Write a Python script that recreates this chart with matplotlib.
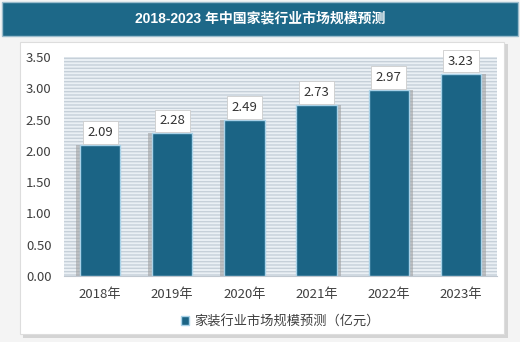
import matplotlib

matplotlib.use('Agg')

import matplotlib.pyplot as plt
from matplotlib.patches import Rectangle

plt.rcParams['font.family'] = ['Noto Sans CJK SC', 'DejaVu Sans']

TITLE = '2018-2023 年中国家装行业市场规模预测'
SERIES_NAME = '家装行业市场规模预测（亿元）'
YEARS = ['2018年', '2019年', '2020年', '2021年', '2022年', '2023年']
VALUES = [2.09, 2.28, 2.49, 2.73, 2.97, 3.23]
Y_TICKS = [0.0, 0.5, 1.0, 1.5, 2.0, 2.5, 3.0, 3.5]

BAR = '#1b6485'
HEADER = '#1d6888'

fig = plt.figure(figsize=(5.2, 3.42), dpi=100)
fig.patch.set_facecolor('#f4f4f4')

# header strip
fig.add_artist(Rectangle((0.004, 0.895), 0.992, 0.099, transform=fig.transFigure,
                         facecolor=HEADER, edgecolor='#9bbccc', linewidth=1, zorder=-3))
fig.text(0.5, 0.945, TITLE, ha='center', va='center', color='white', fontsize=10,
         fontweight='bold', family=['Liberation Sans', 'Noto Sans CJK SC'])

# white card with soft shadow
fig.add_artist(Rectangle((0.044, 0.013), 0.932, 0.858, transform=fig.transFigure,
                         facecolor='#d4d4d4', edgecolor='none', zorder=-3))
fig.add_artist(Rectangle((0.038, 0.022), 0.932, 0.856, transform=fig.transFigure,
                         facecolor='white', edgecolor='#dddddd', linewidth=0.8, zorder=-2))

ax = fig.add_axes([0.123, 0.193, 0.833, 0.640])
ax.set_facecolor('#eaf0f5')
ax.add_patch(Rectangle((0, 0), 1, 1, transform=ax.transAxes, facecolor='none',
                       edgecolor='#c6d0d9', hatch='-----', linewidth=0, zorder=0.5))

x = range(len(YEARS))
# offset shadows behind bars
for i, v in zip(x, VALUES):
    off = -0.06 if i < 3 else 0.06
    ax.bar(i + off, v, width=0.56, color='#9a9a9a', alpha=0.55, zorder=1, linewidth=0)
ax.bar(x, VALUES, width=0.56, color=BAR, edgecolor='#a9d2e8', linewidth=1,
       zorder=2, label=SERIES_NAME)

for i, v in zip(x, VALUES):
    ax.text(i, v + 0.1, f'{v:.2f}', ha='center', va='bottom', fontsize=9.5, color='#333333',
            zorder=4, bbox=dict(boxstyle='square,pad=0.35', facecolor='white',
                                edgecolor='#cccccc', linewidth=0.6))

ax.set_xlim(-0.5, len(YEARS) - 0.5)
ax.set_ylim(0, 3.5)
ax.set_yticks(Y_TICKS)
ax.set_yticklabels([f'{t:.2f}' for t in Y_TICKS])
ax.set_xticks(list(x))
ax.set_xticklabels(YEARS)
ax.tick_params(length=0, labelsize=9.5, colors='#404040')
ax.tick_params(axis='x', pad=9)
ax.tick_params(axis='y', pad=9)
for s in ['top', 'right', 'left']:
    ax.spines[s].set_visible(False)
ax.spines['bottom'].set_color('#c0c8d0')

ax.legend(loc='upper center', bbox_to_anchor=(0.5, -0.125), frameon=False, fontsize=9.5,
          handlelength=0.6, handleheight=0.6, handletextpad=0.4, labelcolor='#404040')

fig.savefig('out.png', facecolor=fig.get_facecolor())
